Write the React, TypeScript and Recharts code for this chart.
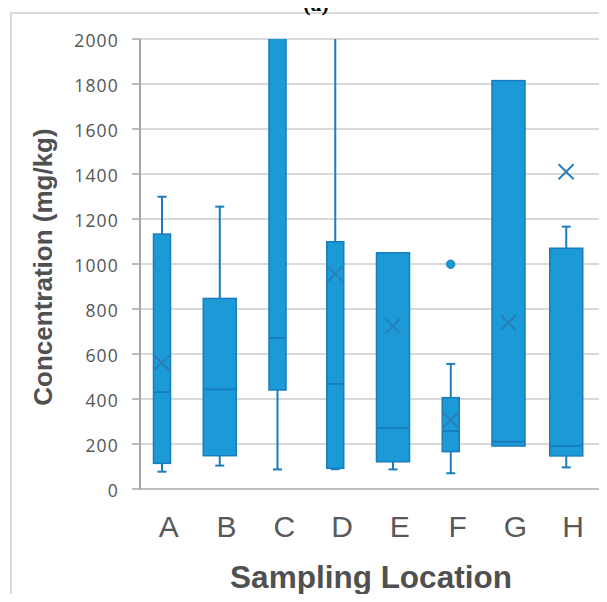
import React from "react";
import {
  ComposedChart,
  Bar,
  Scatter,
  XAxis,
  YAxis,
  CartesianGrid,
  Label,
} from "recharts";

const locations = ["A", "B", "C", "D", "E", "F", "G", "H"];
const whiskerLow = [77, 104, 87, 88, 87, 70, 191, 96];
const q1 = [114, 148, 440, 92, 121, 166, 191, 147];
const median = [431, 443, 671, 467, 272, 258, 210, 192];
const q3 = [1133, 847, 2400, 1099, 1050, 406, 1815, 1070];
const whiskerHigh = [1299, 1255, 2600, 2400, 1050, 556, 1815, 1166];
const mean = [561, null, null, 956, 724, 307, 739, 1410];
const outliers = [null, null, null, null, null, 999, null, null];
const yTicks = [0, 200, 400, 600, 800, 1000, 1200, 1400, 1600, 1800, 2000];

// box widths differ in the source figure
const BOX_WIDTH: Record<string, number> = {
  A: 17, B: 33, C: 17, D: 17, E: 33, F: 17, G: 33, H: 33,
};
const SHIFT = -7;
const FILL = "#1b9ad6";
const EDGE = "#1a7cbc";
const MARK = "#2a7fb8";
const TICK_GRAY = "#595959";

const rows = locations.map((loc, i) => ({
  loc,
  range: [whiskerLow[i], whiskerHigh[i]],
  low: whiskerLow[i],
  q1: q1[i],
  median: median[i],
  q3: q3[i],
  high: whiskerHigh[i],
  mean: mean[i],
  outlier: outliers[i],
}));

function BoxShape(props: any) {
  const { x, y, width, height, payload } = props;
  if (payload == null || height == null) return <g />;
  const { low, high } = payload;
  const k = height / (high - low);
  const py = (v: number) => y + (high - v) * k;
  const cx = x + width / 2 + SHIFT;
  const w = BOX_WIDTH[payload.loc];
  const cap = 4.5;
  const top = py(payload.q3);
  const bot = py(payload.q1);
  return (
    <g>
      {high > payload.q3 && (
        <g>
          <line x1={cx} x2={cx} y1={py(high)} y2={top} stroke={EDGE} strokeWidth={2} />
          <line x1={cx - cap} x2={cx + cap} y1={py(high)} y2={py(high)} stroke={EDGE} strokeWidth={2} />
        </g>
      )}
      {low < payload.q1 && (
        <g>
          <line x1={cx} x2={cx} y1={bot} y2={py(low)} stroke={EDGE} strokeWidth={2} />
          <line x1={cx - cap} x2={cx + cap} y1={py(low)} y2={py(low)} stroke={EDGE} strokeWidth={2} />
        </g>
      )}
      <rect x={cx - w / 2} y={top} width={w} height={bot - top} fill={FILL} stroke={EDGE} strokeWidth={1.5} />
      <line
        x1={cx - w / 2}
        x2={cx + w / 2}
        y1={py(payload.median)}
        y2={py(payload.median)}
        stroke={EDGE}
        strokeWidth={1.8}
      />
    </g>
  );
}

function MeanMark(props: any) {
  const { cx, cy, payload } = props;
  if (payload == null || payload.mean == null || cy == null) return <g />;
  const s = 7.5;
  const x0 = cx + SHIFT;
  return (
    <g stroke={MARK} strokeWidth={2}>
      <line x1={x0 - s} y1={cy - s} x2={x0 + s} y2={cy + s} />
      <line x1={x0 - s} y1={cy + s} x2={x0 + s} y2={cy - s} />
    </g>
  );
}

function OutlierDot(props: any) {
  const { cx, cy, payload } = props;
  if (payload == null || payload.outlier == null || cy == null) return <g />;
  return <circle cx={cx + SHIFT} cy={cy} r={4.2} fill={FILL} stroke={EDGE} strokeWidth={1} />;
}

export default function App() {
  return (
    <div style={{ position: "relative", width: 607, height: 602, margin: -8, background: "#fff", overflow: "hidden" }}>
      <div
        style={{
          position: "absolute",
          left: 10,
          top: 12,
          width: 620,
          height: 620,
          borderLeft: "2px solid #dadada",
          borderTop: "2px solid #dadada",
        }}
      />
      <div
        style={{
          position: "absolute",
          left: 0,
          width: 632,
          top: -7,
          textAlign: "center",
          fontFamily: "Liberation Serif",
          fontWeight: 700,
          fontSize: 22,
          lineHeight: "22px",
        }}
      >
        (a)
      </div>
      <div style={{ position: "absolute", left: 0, top: 0 }}>
        <ComposedChart
          width={607}
          height={602}
          data={rows}
          margin={{ top: 39, right: 5, bottom: 53, left: 80 }}
        >
          <CartesianGrid vertical={false} stroke="#d9d9d9" strokeWidth={2} />
          <XAxis
            dataKey="loc"
            interval={0}
            height={60}
            axisLine={{ stroke: "#bfbfbf", strokeWidth: 2 }}
            tickLine={false}
            tickSize={0}
            tickMargin={27}
            tick={{ fill: TICK_GRAY, fontSize: 30, fontFamily: "Liberation Sans" }}
          >
            <Label
              content={() => (
                <text
                  x={371}
                  y={588}
                  textAnchor="middle"
                  fill="#505050"
                  fontSize={31.5}
                  fontWeight={700}
                  fontFamily="Liberation Sans"
                >
                  Sampling Location
                </text>
              )}
            />
          </XAxis>
          <YAxis
            domain={[0, 2000]}
            ticks={yTicks}
            allowDataOverflow
            interval={0}
            width={60}
            axisLine={{ stroke: "#a6a6a6", strokeWidth: 2 }}
            tickLine={{ stroke: "#a6a6a6", strokeWidth: 1.5 }}
            tickSize={8}
            tickMargin={13}
            tick={{ fill: "#555555", fontSize: 17.5, fontFamily: "Open Sans", letterSpacing: 1.2, dy: 2 }}
          >
            <Label
              content={() => (
                <text
                  x={43}
                  y={267}
                  transform="rotate(-90 43 267)"
                  textAnchor="middle"
                  dominantBaseline="central"
                  fill="#505050"
                  fontSize={26}
                  fontWeight={700}
                  fontFamily="Liberation Sans"
                >
                  Concentration (mg/kg)
                </text>
              )}
            />
          </YAxis>
          <Bar dataKey="range" barSize={20} shape={<BoxShape />} isAnimationActive={false} />
          <Scatter dataKey="mean" shape={<MeanMark />} isAnimationActive={false} />
          <Scatter dataKey="outlier" shape={<OutlierDot />} isAnimationActive={false} />
        </ComposedChart>
      </div>
    </div>
  );
}
